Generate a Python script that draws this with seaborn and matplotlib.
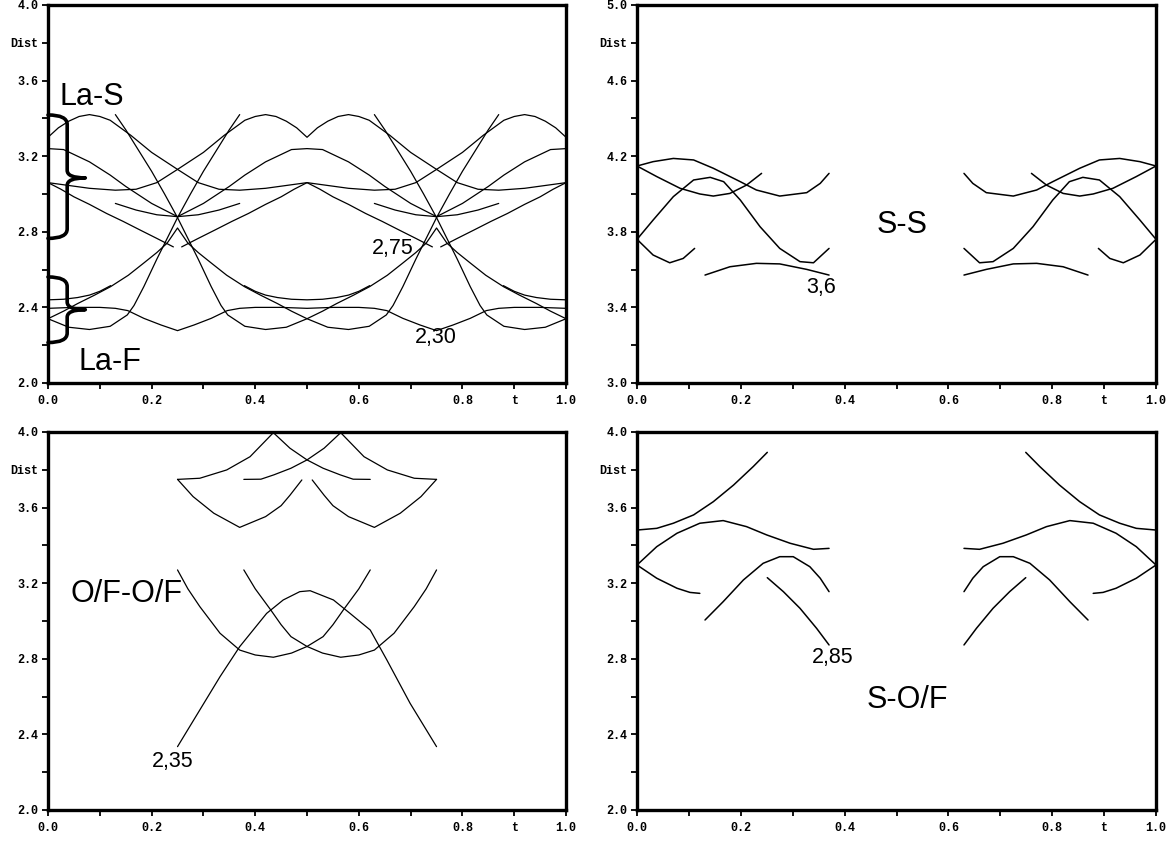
import numpy as np
import pandas as pd
import matplotlib
matplotlib.use("Agg")
import matplotlib.pyplot as plt
from matplotlib.path import Path
from matplotlib.patches import PathPatch
import seaborn as sns

# ---------------- La-S / La-F (top left) ----------------
hump_a_t = [0, 0.02, 0.04, 0.06, 0.08, 0.10, 0.12, 0.16, 0.20, 0.25, 0.29, 0.33, 0.37, 0.42, 0.46, 0.50,
            0.54, 0.58, 0.63, 0.67, 0.71, 0.75, 0.80, 0.84, 0.88, 0.90, 0.92, 0.94, 0.96, 0.98, 1.0]
hump_a_d = [3.30, 3.35, 3.385, 3.41, 3.42, 3.41, 3.39, 3.31, 3.22, 3.13, 3.06, 3.025, 3.02, 3.03, 3.045, 3.06,
            3.045, 3.03, 3.02, 3.025, 3.06, 3.13, 3.22, 3.31, 3.39, 3.41, 3.42, 3.41, 3.385, 3.35, 3.30]
hump_b_t = [0, 0.04, 0.08, 0.13, 0.17, 0.21, 0.25, 0.30, 0.34, 0.38, 0.40, 0.42, 0.44, 0.46, 0.48, 0.50,
            0.52, 0.54, 0.56, 0.58, 0.60, 0.62, 0.66, 0.70, 0.75, 0.79, 0.83, 0.87, 0.92, 0.96, 1.0]
hump_b_d = [3.06, 3.045, 3.03, 3.02, 3.025, 3.06, 3.13, 3.22, 3.31, 3.39, 3.41, 3.42, 3.41, 3.385, 3.35, 3.30,
            3.35, 3.385, 3.41, 3.42, 3.41, 3.39, 3.31, 3.22, 3.13, 3.06, 3.025, 3.02, 3.03, 3.045, 3.06]
mid_t = [0, 0.03, 0.08, 0.12, 0.15, 0.20, 0.25, 0.30, 0.35, 0.38, 0.42, 0.47, 0.50,
         0.53, 0.58, 0.62, 0.65, 0.70, 0.75, 0.80, 0.85, 0.88, 0.92, 0.97, 1.0]
mid_d = [3.24, 3.235, 3.17, 3.10, 3.04, 2.95, 2.88, 2.95, 3.04, 3.10, 3.17, 3.235, 3.24,
         3.235, 3.17, 3.10, 3.04, 2.95, 2.88, 2.95, 3.04, 3.10, 3.17, 3.235, 3.24]
arc1_t = [0.13, 0.17, 0.21, 0.25, 0.29, 0.33, 0.37]
arc2_t = [0.63, 0.67, 0.71, 0.75, 0.79, 0.83, 0.87]
arc_d = [2.95, 2.915, 2.89, 2.88, 2.89, 2.915, 2.95]
dip1_t = [0, 0.025, 0.05, 0.08, 0.113, 0.145, 0.178, 0.21, 0.242]
dip1_d = [3.06, 3.025, 2.985, 2.945, 2.897, 2.855, 2.809, 2.765, 2.72]
dip2_t = [0.258, 0.29, 0.322, 0.355, 0.387, 0.42, 0.45, 0.475, 0.5,
          0.525, 0.55, 0.58, 0.613, 0.645, 0.678, 0.71, 0.742]
dip2_d = [2.72, 2.765, 2.809, 2.855, 2.897, 2.945, 2.985, 3.025, 3.06,
          3.025, 2.985, 2.945, 2.897, 2.855, 2.809, 2.765, 2.72]
dip3_t = [0.758, 0.79, 0.822, 0.855, 0.887, 0.92, 0.95, 0.975, 1.0]
dip3_d = [2.72, 2.765, 2.809, 2.855, 2.897, 2.945, 2.985, 3.025, 3.06]
steep1_t = [0, 0.04, 0.08, 0.12, 0.153, 0.166, 0.185, 0.21, 0.23, 0.25, 0.275, 0.30, 0.325, 0.35, 0.37]
steep1_d = [2.34, 2.295, 2.283, 2.30, 2.36, 2.41, 2.51, 2.655, 2.765, 2.875, 3.00, 3.12, 3.23, 3.34, 3.42]
steep2_t = [0.13, 0.15, 0.175, 0.20, 0.225, 0.25, 0.27, 0.29, 0.315, 0.334, 0.347, 0.38, 0.42, 0.46, 0.5,
            0.54, 0.58, 0.62, 0.653, 0.666, 0.685, 0.71, 0.73, 0.75, 0.775, 0.80, 0.825, 0.85, 0.87]
steep2_d = [3.42, 3.34, 3.23, 3.12, 3.00, 2.875, 2.765, 2.655, 2.51, 2.41, 2.36, 2.30, 2.283, 2.295, 2.34,
            2.295, 2.283, 2.30, 2.36, 2.41, 2.51, 2.655, 2.765, 2.875, 3.00, 3.12, 3.23, 3.34, 3.42]
steep3_t = [0.63, 0.65, 0.675, 0.70, 0.725, 0.75, 0.77, 0.79, 0.815, 0.834, 0.847, 0.88, 0.92, 0.96, 1.0]
steep3_d = [3.42, 3.34, 3.23, 3.12, 3.00, 2.875, 2.765, 2.655, 2.51, 2.41, 2.36, 2.30, 2.283, 2.295, 2.34]
zig_t = [0, 0.03, 0.057, 0.09, 0.121, 0.155, 0.185, 0.21, 0.23, 0.25, 0.27, 0.29, 0.315, 0.345, 0.379,
         0.41, 0.443, 0.47, 0.5, 0.53, 0.557, 0.59, 0.621, 0.655, 0.685, 0.71, 0.73, 0.75, 0.77, 0.79,
         0.815, 0.845, 0.879, 0.91, 0.943, 0.97, 1.0]
zig_d = [2.34, 2.38, 2.42, 2.465, 2.51, 2.57, 2.635, 2.69, 2.74, 2.82, 2.74, 2.69, 2.635, 2.57, 2.51,
         2.465, 2.42, 2.38, 2.34, 2.38, 2.42, 2.465, 2.51, 2.57, 2.635, 2.69, 2.74, 2.82, 2.74, 2.69,
         2.635, 2.57, 2.51, 2.465, 2.42, 2.38, 2.34]
flat1_t = [0, 0.03, 0.057, 0.08, 0.10, 0.121]
flat1_d = [2.44, 2.443, 2.452, 2.465, 2.485, 2.515]
flat2_t = [0.379, 0.40, 0.42, 0.443, 0.47, 0.50, 0.53, 0.557, 0.58, 0.60, 0.621]
flat2_d = [2.515, 2.485, 2.465, 2.452, 2.443, 2.44, 2.443, 2.452, 2.465, 2.485, 2.515]
flat3_t = [0.879, 0.90, 0.92, 0.943, 0.97, 1.0]
flat3_d = [2.515, 2.485, 2.465, 2.452, 2.443, 2.44]
vee_t = [0, 0.05, 0.10, 0.13, 0.154, 0.185, 0.218, 0.25, 0.282, 0.315, 0.346, 0.37, 0.40, 0.45, 0.50,
         0.55, 0.60, 0.63, 0.654, 0.685, 0.718, 0.75, 0.782, 0.815, 0.846, 0.87, 0.90, 0.95, 1.0]
vee_d = [2.395, 2.40, 2.40, 2.395, 2.383, 2.342, 2.307, 2.277, 2.307, 2.342, 2.383, 2.395, 2.40, 2.40, 2.395,
         2.40, 2.40, 2.395, 2.383, 2.342, 2.307, 2.277, 2.307, 2.342, 2.383, 2.395, 2.40, 2.40, 2.395]

# ---------------- S-S (top right) ----------------
ss1_t = [0, 0.031, 0.07, 0.109, 0.147, 0.199, 0.23, 0.275, 0.327, 0.353, 0.37]
ss1r_t = [1.0, 0.969, 0.93, 0.891, 0.853, 0.801, 0.77, 0.725, 0.673, 0.647, 0.63]
ss1_d = [4.148, 4.171, 4.188, 4.18, 4.136, 4.065, 4.021, 3.989, 4.007, 4.056, 4.109]
ss2_t = [0, 0.038, 0.083, 0.121, 0.147, 0.179, 0.211, 0.24]
ss2r_t = [1.0, 0.962, 0.917, 0.879, 0.853, 0.821, 0.789, 0.76]
ss2_d = [4.148, 4.092, 4.03, 4.0, 3.989, 4.003, 4.047, 4.109]
ss3_t = [0, 0.031, 0.07, 0.109, 0.141, 0.167, 0.199, 0.237, 0.275, 0.314, 0.34, 0.37]
ss3r_t = [1.0, 0.969, 0.93, 0.891, 0.859, 0.833, 0.801, 0.763, 0.725, 0.686, 0.66, 0.63]
ss3_d = [3.76, 3.862, 3.986, 4.074, 4.088, 4.065, 3.968, 3.827, 3.712, 3.642, 3.636, 3.712]
ss4_t = [0, 0.031, 0.063, 0.089, 0.111]
ss4r_t = [1.0, 0.969, 0.937, 0.911, 0.889]
ss4_d = [3.76, 3.677, 3.636, 3.659, 3.712]
ss5_t = [0.131, 0.179, 0.23, 0.275, 0.327, 0.37]
ss5r_t = [0.869, 0.821, 0.77, 0.725, 0.673, 0.63]
ss5_d = [3.571, 3.615, 3.633, 3.63, 3.601, 3.571]

# ---------------- O/F-O/F (bottom left) ----------------
of1_t = [0.25, 0.293, 0.345, 0.39, 0.435, 0.467, 0.50, 0.531, 0.564, 0.589, 0.622]
of1r_t = [0.75, 0.707, 0.655, 0.61, 0.565, 0.533, 0.50, 0.469, 0.436, 0.411, 0.378]
of1_d = [3.749, 3.755, 3.799, 3.869, 3.996, 3.914, 3.852, 3.808, 3.773, 3.75, 3.749]
of2_t = [0.25, 0.28, 0.32, 0.37, 0.42, 0.45, 0.467, 0.49]
of2r_t = [0.75, 0.72, 0.68, 0.63, 0.58, 0.55, 0.533, 0.51]
of2_d = [3.749, 3.658, 3.57, 3.495, 3.552, 3.61, 3.665, 3.746]
of3_t = [0.25, 0.27, 0.293, 0.332, 0.37, 0.40, 0.435, 0.47, 0.50, 0.531, 0.55, 0.57, 0.60, 0.622]
of3r_t = [0.75, 0.73, 0.707, 0.668, 0.63, 0.60, 0.565, 0.53, 0.50, 0.469, 0.45, 0.43, 0.40, 0.378]
of3_d = [3.27, 3.17, 3.076, 2.935, 2.846, 2.82, 2.808, 2.83, 2.865, 2.917, 2.98, 3.058, 3.17, 3.27]
of4_t = [0.25, 0.293, 0.332, 0.37, 0.396, 0.422, 0.454, 0.486, 0.506, 0.551, 0.583, 0.622, 0.654, 0.699, 0.75]
of4_d = [2.335, 2.529, 2.705, 2.864, 2.952, 3.04, 3.111, 3.155, 3.16, 3.111, 3.04, 2.952, 2.794, 2.564, 2.335]

# ---------------- S-O/F (bottom right) ----------------
so1_t = [0, 0.038, 0.07, 0.109, 0.147, 0.186, 0.224, 0.251]
so1r_t = [1.0, 0.962, 0.93, 0.891, 0.853, 0.814, 0.776, 0.749]
so1_d = [3.481, 3.49, 3.517, 3.561, 3.631, 3.719, 3.817, 3.892]
so2_t = [0, 0.038, 0.077, 0.121, 0.166, 0.211, 0.25, 0.295, 0.34, 0.37]
so2r_t = [1.0, 0.962, 0.923, 0.879, 0.834, 0.789, 0.75, 0.705, 0.66, 0.63]
so2_d = [3.296, 3.393, 3.464, 3.517, 3.531, 3.499, 3.455, 3.411, 3.379, 3.384]
so3_t = [0, 0.038, 0.077, 0.102, 0.121]
so3r_t = [1.0, 0.962, 0.923, 0.898, 0.879]
so3_d = [3.296, 3.226, 3.173, 3.151, 3.146]
so4_t = [0.131, 0.166, 0.205, 0.243, 0.275, 0.301, 0.333, 0.353, 0.37]
so4r_t = [0.869, 0.834, 0.795, 0.757, 0.725, 0.699, 0.667, 0.647, 0.63]
so4_d = [3.005, 3.102, 3.217, 3.305, 3.34, 3.34, 3.287, 3.226, 3.155]
so5_t = [0.251, 0.282, 0.314, 0.346, 0.37]
so5r_t = [0.749, 0.718, 0.686, 0.654, 0.63]
so5_d = [3.229, 3.155, 3.067, 2.961, 2.873]

x_ticks = [0.0, 0.1, 0.2, 0.3, 0.4, 0.5, 0.6, 0.7, 0.8, 0.9, 1.0]
x_labels = ["0.0", "", "0.2", "", "0.4", "", "0.6", "", "0.8", "t", "1.0"]


def frame(segments):
    rows = []
    for i, (ts, ds) in enumerate(segments):
        for k, (t, d) in enumerate(zip(ts, ds)):
            rows.append({"seg": i, "order": k, "t": t, "dist": d})
    return pd.DataFrame(rows)


def draw(ax, segments, lw=1.0):
    df = frame(segments)
    sns.lineplot(data=df, x="t", y="dist", units="seg", estimator=None, sort=False,
                 color="black", linewidth=lw, legend=False, ax=ax)
    ax.set_xlabel("")
    ax.set_ylabel("")


def style(ax, ymin, ymax):
    ax.set_xlim(0, 1)
    ax.set_ylim(ymin, ymax)
    yt = [round(ymax - 0.2 * i, 1) for i in range(int(round((ymax - ymin) / 0.2)) + 1)]
    yl = []
    for i, v in enumerate(yt):
        if i == 1:
            yl.append("Dist")
        elif i % 2 == 0:
            yl.append(f"{v:.1f}")
        else:
            yl.append("")
    ax.set_yticks(yt, yl)
    ax.set_xticks(x_ticks, x_labels)
    ax.tick_params(bottom=True, left=True, top=False, right=False, direction="out",
                   length=4, width=1.3, color="black", labelcolor="black")
    ax.tick_params(axis="x", pad=5)
    ax.tick_params(axis="y", pad=3)
    for lab in ax.get_xticklabels() + ax.get_yticklabels():
        lab.set_fontfamily("Liberation Mono")
        lab.set_fontweight("bold")
        lab.set_fontsize(8.5)
    for sp in ax.spines.values():
        sp.set_visible(True)
        sp.set_linewidth(2.4)
        sp.set_color("black")


def brace(ax, top, mid, bot, xs=0.037, xt=0.072, h=0.05, hm=0.04):
    verts = [(0.0, top), (xs, top), (xs, top - h), (xs, mid + hm),
             (xs, mid), (xt, mid), (xs, mid), (xs, mid - hm),
             (xs, bot + h), (xs, bot), (0.0, bot)]
    codes = [Path.MOVETO, Path.CURVE3, Path.CURVE3, Path.LINETO,
             Path.CURVE3, Path.CURVE3, Path.CURVE3, Path.CURVE3,
             Path.LINETO, Path.CURVE3, Path.CURVE3]
    ax.add_patch(PathPatch(Path(verts, codes), fill=False, lw=2.6, color="black",
                           capstyle="round", joinstyle="round", clip_on=False))


sns.set_style("white")
plt.rcParams["font.family"] = ["Liberation Sans", "DejaVu Sans"]
plt.rcParams["text.color"] = "black"

fig = plt.figure(figsize=(11.71, 8.41), dpi=100)
ax1 = fig.add_axes([0.0410, 0.5446, 0.4424, 0.4495])
ax2 = fig.add_axes([0.5440, 0.5446, 0.4432, 0.4495])
ax3 = fig.add_axes([0.0410, 0.0369, 0.4424, 0.4495])
ax4 = fig.add_axes([0.5440, 0.0369, 0.4432, 0.4495])

draw(ax1, [(hump_a_t, hump_a_d), (hump_b_t, hump_b_d), (mid_t, mid_d),
           (arc1_t, arc_d), (arc2_t, arc_d),
           (dip1_t, dip1_d), (dip2_t, dip2_d), (dip3_t, dip3_d),
           (steep1_t, steep1_d), (steep2_t, steep2_d), (steep3_t, steep3_d),
           (zig_t, zig_d), (flat1_t, flat1_d), (flat2_t, flat2_d), (flat3_t, flat3_d),
           (vee_t, vee_d)], lw=0.9)
draw(ax2, [(ss1_t, ss1_d), (ss1r_t, ss1_d), (ss2_t, ss2_d), (ss2r_t, ss2_d),
           (ss3_t, ss3_d), (ss3r_t, ss3_d), (ss4_t, ss4_d), (ss4r_t, ss4_d),
           (ss5_t, ss5_d), (ss5r_t, ss5_d)], lw=1.1)
draw(ax3, [(of1_t, of1_d), (of1r_t, of1_d), (of2_t, of2_d), (of2r_t, of2_d),
           (of3_t, of3_d), (of3r_t, of3_d), (of4_t, of4_d)], lw=0.9)
draw(ax4, [(so1_t, so1_d), (so1r_t, so1_d), (so2_t, so2_d), (so2r_t, so2_d),
           (so3_t, so3_d), (so3r_t, so3_d), (so4_t, so4_d), (so4r_t, so4_d),
           (so5_t, so5_d), (so5r_t, so5_d)], lw=1.1)

style(ax1, 2.0, 4.0)
style(ax2, 3.0, 5.0)
style(ax3, 2.0, 4.0)
style(ax4, 2.0, 4.0)

brace(ax1, 3.418, 3.085, 2.765)
brace(ax1, 2.561, 2.388, 2.214)

big = 22
small = 15.5
ax1.text(0.023, 3.471, "La-S", fontsize=big, ha="left", va="baseline", color="black")
ax1.text(0.0585, 2.069, "La-F", fontsize=big, ha="left", va="baseline", color="black")
ax1.text(0.625, 2.683, "2,75", fontsize=small, ha="left", va="baseline", color="black")
ax1.text(0.708, 2.21, "2,30", fontsize=small, ha="left", va="baseline", color="black")
ax2.text(0.462, 3.792, "S-S", fontsize=big, ha="left", va="baseline", color="black")
ax2.text(0.327, 3.478, "3,6", fontsize=small, ha="left", va="baseline", color="black")
ax3.text(0.0425, 3.102, "O/F-O/F", fontsize=big, ha="left", va="baseline", color="black")
ax3.text(0.20, 2.229, "2,35", fontsize=small, ha="left", va="baseline", color="black")
ax4.text(0.337, 2.78, "2,85", fontsize=small, ha="left", va="baseline", color="black")
ax4.text(0.4426, 2.538, "S-O/F", fontsize=big, ha="left", va="baseline", color="black")

fig.savefig("out.png", dpi=100, facecolor="white")
